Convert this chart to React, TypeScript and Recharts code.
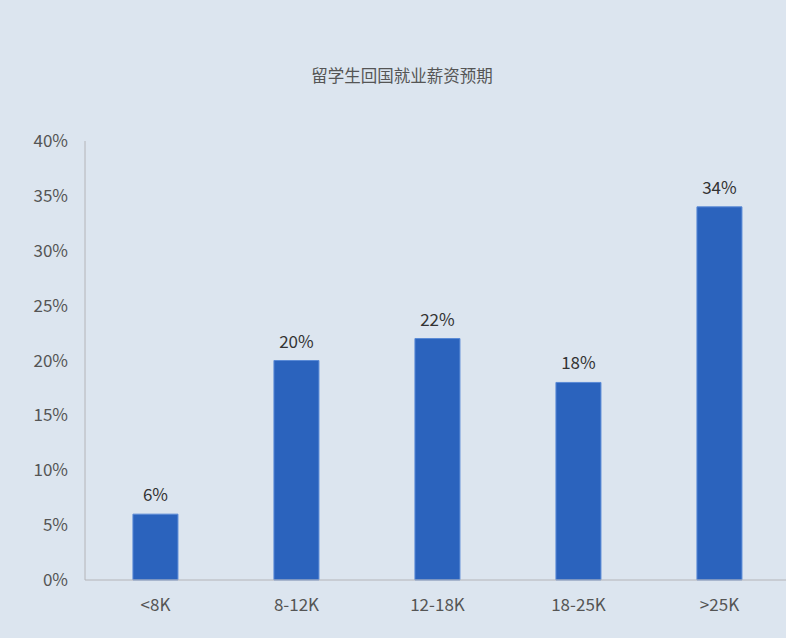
import { Bar, BarChart, LabelList, XAxis, YAxis } from "recharts";

const categories = ["<8K", "8-12K", "12-18K", "18-25K", ">25K"];
const shares = [6, 20, 22, 18, 34];
const yTicks = [0, 5, 10, 15, 20, 25, 30, 35, 40];

const font = '"Noto Sans CJK SC", "Noto Sans", sans-serif';

export default function App() {
  const data = categories.map((c, i) => ({ name: c, value: shares[i] }));

  return (
    <div
      style={{
        position: "fixed",
        left: 0,
        top: 0,
        width: 786,
        height: 638,
        overflow: "hidden",
        background: "#dce5ef",
        fontFamily: font,
      }}
    >
      <div
        style={{
          position: "absolute",
          top: 63,
          width: "100%",
          textAlign: "center",
          fontSize: 16.5,
          color: "#555",
          paddingLeft: 18,
          boxSizing: "border-box",
        }}
      >
        留学生回国就业薪资预期
      </div>
      <BarChart
        width={790}
        height={638}
        data={data}
        margin={{ top: 141, right: 0, left: 0, bottom: 28 }}
        barCategoryGap="34%"
      >
        <XAxis
          dataKey="name"
          height={30}
          axisLine={{ stroke: "#b4b4b8" }}
          tickLine={false}
          tickSize={0}
          tickMargin={19}
          tick={{ fill: "#555", fontSize: 17, fontFamily: font }}
        />
        <YAxis
          width={85}
          domain={[0, 40]}
          ticks={yTicks}
          interval={0}
          axisLine={{ stroke: "#b4b4b8" }}
          tickLine={false}
          tickSize={0}
          tickMargin={17}
          tickFormatter={(v) => `${v}%`}
          tick={{ fill: "#555", fontSize: 17, fontFamily: font }}
        />
        <Bar dataKey="value" fill="#2b63bd" stroke="#5a8ad6" strokeWidth={1} isAnimationActive={false}>
          <LabelList
            dataKey="value"
            position="top"
            offset={13}
            formatter={(v) => `${v}%`}
            style={{ fill: "#333", fontSize: 17, fontFamily: font }}
          />
        </Bar>
      </BarChart>
    </div>
  );
}
